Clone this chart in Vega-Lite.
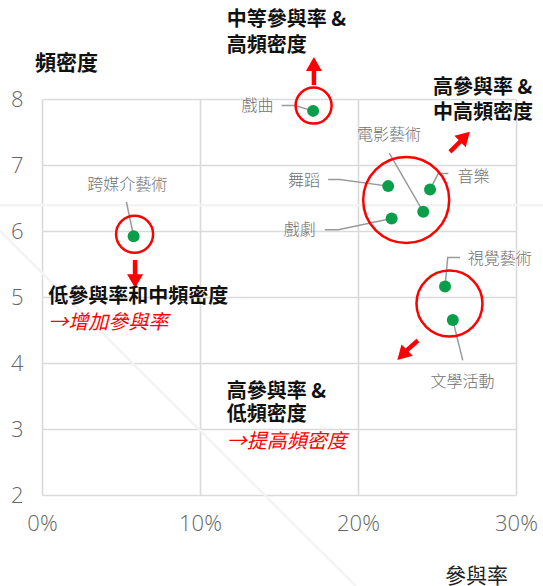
{
  "$schema": "https://vega.github.io/schema/vega-lite/v6.json",
  "width": 474,
  "height": 396,
  "autosize": {"type": "none"},
  "padding": {"left": 42, "top": 99, "right": 27, "bottom": 91},
  "background": "white",
  "config": {"view": {"stroke": null}, "font": "Noto Sans CJK TC"},
  "datasets": {
    "arts": [
      {"name": "戲曲", "x": 0.1716, "y": 7.82},
      {"name": "舞蹈", "x": 0.2191, "y": 6.68},
      {"name": "音樂", "x": 0.2456, "y": 6.63},
      {"name": "電影藝術", "x": 0.2413, "y": 6.29},
      {"name": "戲劇", "x": 0.2213, "y": 6.19},
      {"name": "跨媒介藝術", "x": 0.058, "y": 5.92},
      {"name": "視覺藝術", "x": 0.2551, "y": 5.16},
      {"name": "文學活動", "x": 0.26, "y": 4.65}
    ],
    "labels": [
      {"name": "戲曲", "x": 0.1364, "y": 7.89},
      {"name": "舞蹈", "x": 0.1658, "y": 6.76},
      {"name": "戲劇", "x": 0.1632, "y": 6.01},
      {"name": "電影藝術", "x": 0.2196, "y": 7.45},
      {"name": "音樂", "x": 0.2731, "y": 6.82},
      {"name": "跨媒介藝術", "x": 0.0539, "y": 6.69},
      {"name": "視覺藝術", "x": 0.2897, "y": 5.57},
      {"name": "文學活動", "x": 0.2662, "y": 3.71}
    ],
    "leaders": [
      {"name": "戲曲", "seq": 1, "x": 0.1516, "y": 7.9},
      {"name": "戲曲", "seq": 2, "x": 0.16, "y": 7.9},
      {"name": "戲曲", "seq": 3, "x": 0.1716, "y": 7.82},
      {"name": "舞蹈", "seq": 1, "x": 0.1811, "y": 6.78},
      {"name": "舞蹈", "seq": 2, "x": 0.1885, "y": 6.78},
      {"name": "舞蹈", "seq": 3, "x": 0.2191, "y": 6.68},
      {"name": "戲劇", "seq": 1, "x": 0.179, "y": 6.02},
      {"name": "戲劇", "seq": 2, "x": 0.1875, "y": 6.02},
      {"name": "戲劇", "seq": 3, "x": 0.2213, "y": 6.19},
      {"name": "電影藝術", "seq": 1, "x": 0.2198, "y": 7.18},
      {"name": "電影藝術", "seq": 2, "x": 0.2413, "y": 6.29},
      {"name": "音樂", "seq": 1, "x": 0.2572, "y": 6.87},
      {"name": "音樂", "seq": 2, "x": 0.2508, "y": 6.87},
      {"name": "音樂", "seq": 3, "x": 0.2456, "y": 6.63},
      {"name": "跨媒介藝術", "seq": 1, "x": 0.0534, "y": 6.44},
      {"name": "跨媒介藝術", "seq": 2, "x": 0.058, "y": 5.92},
      {"name": "視覺藝術", "seq": 1, "x": 0.2646, "y": 5.6},
      {"name": "視覺藝術", "seq": 2, "x": 0.2568, "y": 5.6},
      {"name": "視覺藝術", "seq": 3, "x": 0.2551, "y": 5.16},
      {"name": "文學活動", "seq": 1, "x": 0.26, "y": 4.65},
      {"name": "文學活動", "seq": 2, "x": 0.2663, "y": 4.04}
    ],
    "highlights": [
      {"group": "戲曲", "x": 0.1719, "y": 7.9},
      {"group": "表演藝術群", "x": 0.2305, "y": 6.47},
      {"group": "跨媒介藝術", "x": 0.0586, "y": 5.95},
      {"group": "視覺與文學", "x": 0.2579, "y": 4.9}
    ],
    "shafts": [
      {"dir": "up", "x": 0.1721, "y": 8.21, "x2": 0.1721, "y2": 8.435},
      {"dir": "ne", "x": 0.2582, "y": 7.2, "x2": 0.2649, "y2": 7.36},
      {"dir": "down", "x": 0.0589, "y": 5.56, "x2": 0.0589, "y2": 5.33},
      {"dir": "sw", "x": 0.2379, "y": 4.34, "x2": 0.2303, "y2": 4.18}
    ],
    "heads": [
      {"dir": "up", "x": 0.1721, "y": 8.53},
      {"dir": "ne", "x": 0.2677, "y": 7.43},
      {"dir": "down", "x": 0.0589, "y": 5.24},
      {"dir": "sw", "x": 0.228, "y": 4.12}
    ],
    "notes": [
      {"text": "中等參與率 &", "x": 0.1169, "y": 9.19},
      {"text": "高頻密度", "x": 0.1169, "y": 8.81},
      {"text": "高參與率 &", "x": 0.2475, "y": 8.16},
      {"text": "中高頻密度", "x": 0.2475, "y": 7.79},
      {"text": "低參與率和中頻密度", "x": 0.0039, "y": 5.0},
      {"text": "高參與率 &", "x": 0.1169, "y": 3.56},
      {"text": "低頻密度", "x": 0.1169, "y": 3.21}
    ],
    "actions": [
      {"text": "→增加參與率", "x": 0.0039, "y": 4.6},
      {"text": "→提高頻密度", "x": 0.1169, "y": 2.81}
    ],
    "watermark": [
      {"x": -0.0269, "y": 6.39, "x2": 0.3172, "y2": 6.39},
      {"x": -0.0269, "y": 6.01, "x2": 0.1987, "y2": 0.62}
    ]
  },
  "encoding": {
    "x": {
      "field": "x",
      "type": "quantitative",
      "scale": {"domain": [0, 0.3], "nice": false, "zero": false},
      "axis": {
        "title": "參與率",
        "values": [0, 0.1, 0.2, 0.3],
        "format": ".0%",
        "ticks": false,
        "domain": false,
        "grid": true,
        "gridColor": "#dadada",
        "gridWidth": 1.6,
        "labelFont": "Open Sans",
        "labelFontSize": 22,
        "labelFontWeight": 300,
        "labelColor": "#666666",
        "labelBaseline": "middle",
        "labelPadding": 28,
        "labelFlush": false,
        "labelOverlap": false,
        "titleFont": "Noto Sans CJK TC",
        "titleFontSize": 21,
        "titleFontWeight": 400,
        "titleColor": "#222222",
        "titleX": 434,
        "titleY": 81,
        "titleAlign": "center",
        "titleBaseline": "middle"
      }
    },
    "y": {
      "field": "y",
      "type": "quantitative",
      "scale": {"domain": [2, 8], "nice": false, "zero": false},
      "axis": {
        "title": "頻密度",
        "values": [2, 3, 4, 5, 6, 7, 8],
        "ticks": false,
        "domain": false,
        "grid": true,
        "gridColor": "#dadada",
        "gridWidth": 1.6,
        "labelFont": "Open Sans",
        "labelFontSize": 22,
        "labelFontWeight": 300,
        "labelColor": "#666666",
        "labelPadding": 19,
        "labelFlush": false,
        "labelOverlap": false,
        "titleFont": "Noto Sans CJK TC",
        "titleFontSize": 21,
        "titleFontWeight": "bold",
        "titleColor": "#111111",
        "titleAngle": 0,
        "titleX": 24,
        "titleY": -36,
        "titleAlign": "center",
        "titleBaseline": "middle"
      }
    }
  },
  "layer": [
    {
      "data": {"name": "watermark"},
      "mark": {"type": "rule", "color": "#f3f3f3", "strokeWidth": 2.5},
      "encoding": {"x2": {"field": "x2"}, "y2": {"field": "y2"}}
    },
    {
      "data": {"name": "leaders"},
      "mark": {"type": "line", "color": "#9a9a9a", "strokeWidth": 1.5},
      "encoding": {
        "detail": {"field": "name", "type": "nominal"},
        "order": {"field": "seq", "type": "quantitative"}
      }
    },
    {
      "data": {"name": "arts"},
      "mark": {"type": "circle", "size": 144, "color": "#0a9e4a", "opacity": 1}
    },
    {
      "data": {"name": "highlights"},
      "transform": [{"filter": "datum.group == '戲曲'"}],
      "mark": {"type": "point", "shape": "circle", "filled": false, "stroke": "#ff0000", "strokeWidth": 2.5, "opacity": 1, "size": 1296}
    },
    {
      "data": {"name": "highlights"},
      "transform": [{"filter": "datum.group == '表演藝術群'"}],
      "mark": {"type": "point", "shape": "circle", "filled": false, "stroke": "#ff0000", "strokeWidth": 2.5, "opacity": 1, "size": 7396}
    },
    {
      "data": {"name": "highlights"},
      "transform": [{"filter": "datum.group == '跨媒介藝術'"}],
      "mark": {"type": "point", "shape": "circle", "filled": false, "stroke": "#ff0000", "strokeWidth": 2.5, "opacity": 1, "size": 1369}
    },
    {
      "data": {"name": "highlights"},
      "transform": [{"filter": "datum.group == '視覺與文學'"}],
      "mark": {"type": "point", "shape": "circle", "filled": false, "stroke": "#ff0000", "strokeWidth": 2.5, "opacity": 1, "size": 4356}
    },
    {
      "data": {"name": "shafts"},
      "mark": {"type": "rule", "color": "#ff0000", "strokeWidth": 4.5},
      "encoding": {"x2": {"field": "x2"}, "y2": {"field": "y2"}}
    },
    {
      "data": {"name": "heads"},
      "transform": [{"filter": "datum.dir == 'up'"}],
      "mark": {"type": "point", "shape": "triangle-up", "filled": true, "color": "#ff0000", "size": 256, "opacity": 1, "angle": 0}
    },
    {
      "data": {"name": "heads"},
      "transform": [{"filter": "datum.dir == 'ne'"}],
      "mark": {"type": "point", "shape": "triangle-up", "filled": true, "color": "#ff0000", "size": 256, "opacity": 1, "angle": 45}
    },
    {
      "data": {"name": "heads"},
      "transform": [{"filter": "datum.dir == 'down'"}],
      "mark": {"type": "point", "shape": "triangle-up", "filled": true, "color": "#ff0000", "size": 256, "opacity": 1, "angle": 180}
    },
    {
      "data": {"name": "heads"},
      "transform": [{"filter": "datum.dir == 'sw'"}],
      "mark": {"type": "point", "shape": "triangle-up", "filled": true, "color": "#ff0000", "size": 256, "opacity": 1, "angle": 225}
    },
    {
      "data": {"name": "labels"},
      "mark": {"type": "text", "font": "Noto Sans CJK TC", "fontSize": 16, "fontWeight": 300, "color": "#707070", "align": "center", "baseline": "middle"},
      "encoding": {"text": {"field": "name"}}
    },
    {
      "data": {"name": "notes"},
      "mark": {"type": "text", "font": "Noto Sans CJK TC", "fontSize": 20, "fontWeight": "bold", "color": "#111111", "align": "left", "baseline": "middle"},
      "encoding": {"text": {"field": "text"}}
    },
    {
      "data": {"name": "actions"},
      "mark": {"type": "text", "font": "Noto Sans CJK TC", "fontSize": 20, "fontStyle": "italic", "color": "#ff0000", "align": "left", "baseline": "middle"},
      "encoding": {"text": {"field": "text"}}
    }
  ]
}
